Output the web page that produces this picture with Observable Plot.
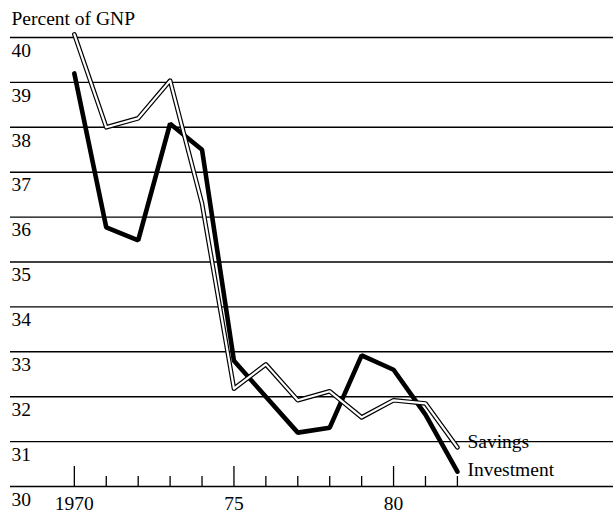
<!DOCTYPE html>
<html>
<head>
<meta charset="utf-8">
<script src="https://cdn.jsdelivr.net/npm/d3@7"></script>
<script src="https://cdn.jsdelivr.net/npm/@observablehq/plot@0.6"></script>
<style>
  html, body { margin: 0; padding: 0; background: #fff; }
  svg { display: block; }
</style>
</head>
<body>
<div id="chart"></div>
<script>
const years = [1970, 1971, 1972, 1973, 1974, 1975, 1976, 1977, 1978, 1979, 1980, 1981, 1982];
const savings = [40.07, 38.0, 38.2, 39.04, 36.3, 32.18, 32.72, 31.92, 32.12, 31.54, 31.92, 31.85, 30.87];
const investment = [39.2, 35.77, 35.48, 38.08, 37.5, 32.8, 32.0, 31.2, 31.31, 32.92, 32.6, 31.6, 30.33];
const yTicks = [30, 31, 32, 33, 34, 35, 36, 37, 38, 39, 40];
const majorYears = [1970, 1975, 1980];
const xTickLabels = ["1970", "75", "80"];
const seriesNames = ["Savings", "Investment"];
const yLabel = "Percent of GNP";

const W = 613, H = 514, mT = 37, mB = 28, mL = 10, mR = 0;
const pxPerUnit = (H - mT - mB) / (yTicks[yTicks.length - 1] - yTicks[0]);
const majorLen = 20 / pxPerUnit, minorLen = 10 / pxPerUnit;

const sav = years.map((y, i) => ({year: y, v: savings[i]}));
const inv = years.map((y, i) => ({year: y, v: investment[i]}));
const ticks = years.map(y => ({year: y, major: majorYears.includes(y)}));
const xLabels = majorYears.map((y, i) => ({year: y, label: xTickLabels[i]}));
const font = "Liberation Serif, Times New Roman, serif";
const fs = 19.5;

const chart = Plot.plot({
  width: W, height: H,
  marginTop: mT, marginBottom: mB, marginLeft: mL, marginRight: mR,
  x: {domain: [1968.0, 1986.89], axis: null},
  y: {domain: [30, 40], axis: null},
  style: {fontFamily: font, fontSize: fs + "px", background: "white", color: "black"},
  marks: [
    Plot.ruleY(yTicks, {stroke: "black", strokeWidth: 1.4}),
    Plot.ruleX(ticks, {x: "year", y1: 30, y2: d => 30 + (d.major ? majorLen : minorLen), stroke: "black", strokeWidth: 1.3}),
    Plot.text(yTicks, {x: 1968.0, y: d => d, dy: 13, dx: 1, text: d => String(d), textAnchor: "start", fontSize: fs}),
    Plot.text(xLabels, {x: "year", y: 30, dy: 17, text: "label", fontSize: fs}),
    Plot.lineY(inv, {x: "year", y: "v", stroke: "black", strokeWidth: 4.6, strokeLinejoin: "miter", strokeLinecap: "round"}),
    Plot.lineY(sav, {x: "year", y: "v", stroke: "black", strokeWidth: 4.6, strokeLinejoin: "round", strokeLinecap: "round"}),
    Plot.lineY(sav, {x: "year", y: "v", stroke: "white", strokeWidth: 2.2, strokeLinejoin: "round", strokeLinecap: "round"}),
    Plot.text([sav[sav.length - 1]], {x: "year", y: "v", dx: 10, dy: -6, text: () => seriesNames[0], textAnchor: "start", fontSize: fs}),
    Plot.text([inv[inv.length - 1]], {x: "year", y: "v", dx: 10, dy: -2, text: () => seriesNames[1], textAnchor: "start", fontSize: fs}),
    Plot.text([yLabel], {frameAnchor: "top-left", lineAnchor: "middle", dx: 1, dy: -19, text: d => d, textAnchor: "start", fontSize: fs})
  ]
});
document.getElementById("chart").appendChild(chart);
</script>
</body>
</html>
